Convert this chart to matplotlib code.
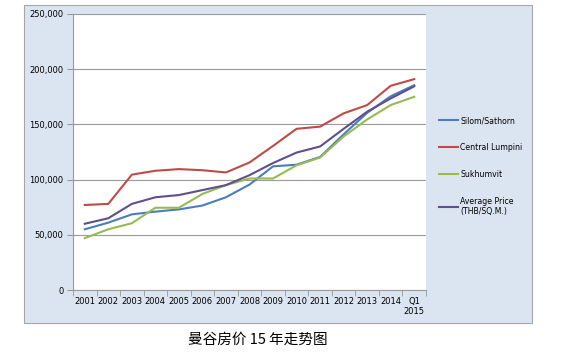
#!/usr/bin/env python3

import matplotlib
matplotlib.use("Agg")
import matplotlib.pyplot as plt
from matplotlib.patches import Rectangle

# years on the x axis
years = ["2001", "2002", "2003", "2004", "2005", "2006", "2007", "2008",
         "2009", "2010", "2011", "2012", "2013", "2014", "Q1\n2015"]

# price per square metre
silom = [55000, 61000, 68500, 71000, 73000, 76500, 84000, 95500,
         112000, 113500, 120500, 141000, 160500, 175500, 185500]
lumpini = [77000, 78000, 104500, 108000, 109500, 108500, 106500, 115500,
           130500, 146000, 148000, 160000, 167500, 185000, 191000]
sukhumvit = [47000, 55000, 60500, 74500, 74500, 87000, 95000, 101000,
             101000, 113000, 120000, 139000, 154500, 167500, 175000]
average = [60000, 65000, 78000, 84000, 86000, 90500, 95000, 104000,
           115000, 124500, 130000, 146000, 161500, 173500, 184500]

names = ["Silom/Sathorn", "Central Lumpini", "Sukhumvit",
         "Average Price\n(THB/SQ.M.)"]
colors = ["#4A7EBB", "#BE4B48", "#98B954", "#5E4F8E"]

fig = plt.figure(figsize=(5.76, 3.55), dpi=100)

# light blue chart panel behind the plot
fig.patches.append(Rectangle((24 / 576, 32 / 355), 508 / 576, 318 / 355,
                             transform=fig.transFigure, facecolor="#DBE5F1",
                             edgecolor="#A6A6A6", linewidth=0.8, zorder=-10))

ax = fig.add_axes([73 / 576, 65 / 355, 353 / 576, 276 / 355])
ax.set_facecolor("white")

x = list(range(len(years)))
for vals, name, col in zip([silom, lumpini, sukhumvit, average], names, colors):
    ax.plot(x, vals, color=col, linewidth=1.5, label=name)

ax.set_xlim(-0.5, len(years) - 0.5)
ax.set_ylim(0, 250000)
ax.set_yticks(range(0, 250001, 50000))
ax.set_yticklabels(["{:,}".format(v) for v in range(0, 250001, 50000)], fontsize=6)
ax.set_xticks(x)
ax.set_xticklabels(years, fontsize=6)
ax.set_xticks([i + 0.5 for i in range(-1, len(years))], minor=True)
ax.tick_params(axis="x", which="major", length=0, pad=5)
ax.tick_params(axis="x", which="minor", length=4, color="#999999")
ax.tick_params(axis="y", length=4, color="#999999", pad=3)
ax.grid(axis="y", color="#999999", linewidth=0.8)
ax.set_axisbelow(True)
for side in ["top", "right"]:
    ax.spines[side].set_visible(False)
for side in ["left", "bottom"]:
    ax.spines[side].set_color("#999999")

fig.legend(loc="upper left", bbox_to_anchor=(432 / 576, 1 - 109 / 355),
           frameon=False, fontsize=5.6, handlelength=2.4, handletextpad=0.35,
           labelspacing=2.3)

fig.text(258 / 576, 1 - 340 / 355, "曼谷房价 15 年走势图", ha="center", va="center",
         fontsize=10.5, family=["Noto Sans CJK SC", "DejaVu Sans"])

fig.savefig("out.png", dpi=100)
